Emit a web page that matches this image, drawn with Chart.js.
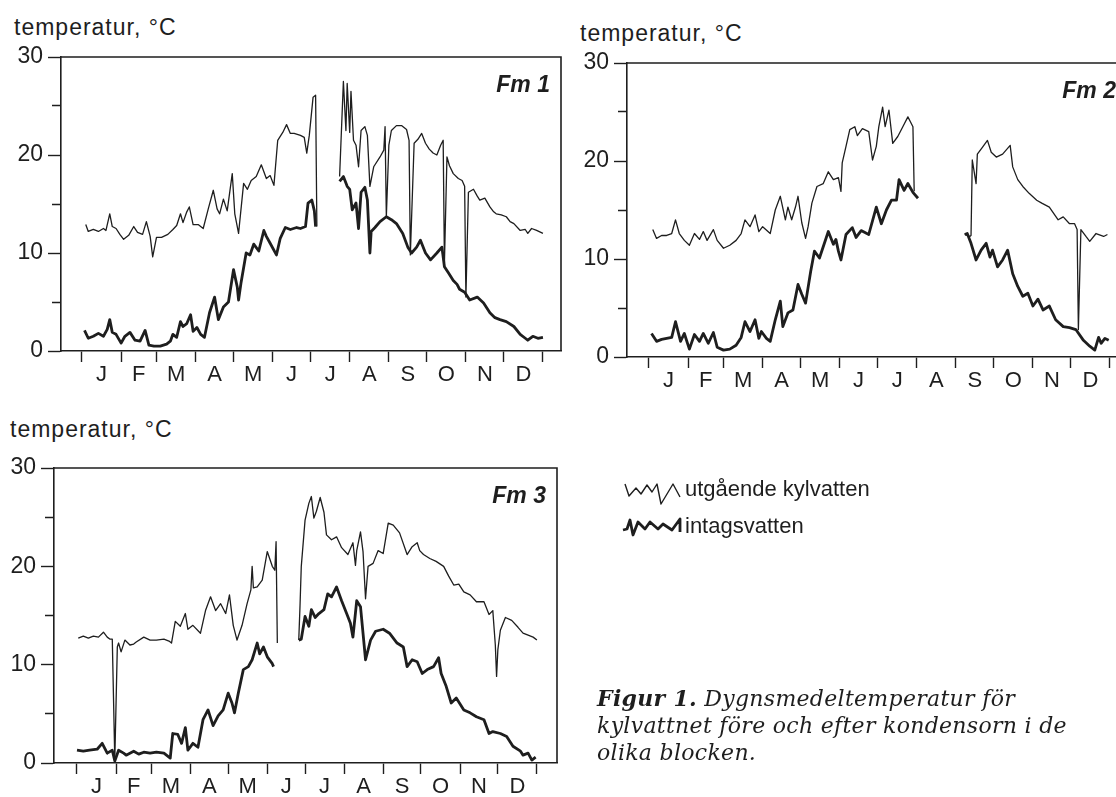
<!DOCTYPE html>
<html>
<head>
<meta charset="utf-8">
<script src="https://cdn.jsdelivr.net/npm/chart.js@4.4.1/dist/chart.umd.min.js"></script>
<style>
  body { margin: 0; width: 1116px; height: 797px; overflow: hidden; position: relative; background: #fff; color: #1e1e1e; font-family: 'Liberation Sans', Arial, sans-serif; }
  canvas { position: absolute; }
  .ylab { position: absolute; font-size: 23px; line-height: 23px; letter-spacing: 1px; white-space: nowrap; }
  .leg { position: absolute; font-size: 22px; line-height: 22px; white-space: nowrap; }
  .cap { position: absolute; font-family: 'DejaVu Serif', serif; font-style: italic; font-size: 22px; line-height: 27px; letter-spacing: 0.3px; white-space: nowrap; }
  .cap b { font-weight: bold; }
</style>
</head>
<body>
<div class="ylab" style="left:14px;top:16px">temperatur, °C</div>
<div class="ylab" style="left:580px;top:22px">temperatur, °C</div>
<div class="ylab" style="left:10px;top:418px">temperatur, °C</div>

<canvas id="fm1" width="600" height="400" style="left:0;top:0"></canvas>
<canvas id="fm2" width="600" height="405" style="left:566px;top:0"></canvas>
<canvas id="fm3" width="600" height="397" style="left:0;top:400px"></canvas>

<!-- teckenförklaring -->
<svg style="position:absolute;left:0;top:0" width="1116" height="797">
  <polyline points="625,484 629,496 636,488 641,494 647,485 652,492 657,484 661,504 673,484 680,497" fill="none" stroke="#1e1e1e" stroke-width="1.4" stroke-linejoin="round"/>
  <polyline points="623,530 627,529 630,520 633,535 638,522 645,529 650,522 658,529 663,524 672,530 680,519 680,532" fill="none" stroke="#1e1e1e" stroke-width="2.8" stroke-linejoin="round"/>
</svg>
<div class="leg" style="left:685px;top:478px">utgående kylvatten</div>
<div class="leg" style="left:685px;top:515px">intagsvatten</div>

<div class="cap" style="left:597px;top:685px"><b>Figur 1.</b> Dygnsmedeltemperatur för<br>kylvattnet före och efter kondensorn i de<br>olika blocken.</div>

<script>
'use strict';
/*------------------------------------*\
     Data (dag på året, °C)
\*------------------------------------*/
var monthStarts = [0, 31, 59, 90, 120, 151, 181, 212, 243, 273, 304, 334, 365];
var monthLabels = ['J', 'F', 'M', 'A', 'M', 'J', 'J', 'A', 'S', 'O', 'N', 'D'];
var yTickLabels = [0, 10, 20, 30];

// Fm 1
var fm1UtDays = [3,5,9,13,17,19,22,24,27,30,33,37,41,44,48,51,54,56,59,63,68,72,75,78,80,83,85,88,92,96,100,104,107,109,112,115,119,121,124,128,131,134,138,142,146,149,152,155,159,162,165,168,173,176,178,180,183,185,186,
  195,
  204,207,209,210,212,213,215,217,219,221,224,226,228,231,236,239,240,241,243,245,249,253,257,259,260,263,266,269,272,275,278,281,284,286,287,289,291,294,298,301,303,304,306,310,313,315,319,323,326,328,332,336,339,342,347,351,353,356,360,365];
var fm1UtTemps = [12.9,12.2,12.4,12.2,12.5,12.3,14.0,12.7,12.5,11.9,11.4,11.8,12.7,12.1,11.9,13.2,11.7,9.6,11.6,11.6,11.9,12.4,12.8,14.0,13.1,14.2,14.7,12.9,12.9,12.5,14.5,16.4,14.5,14.0,15.5,14.3,18.1,14.0,12.0,17.1,16.5,17.4,17.8,19.0,17.6,17.9,16.9,21.5,22.3,23.1,22.2,22.2,22.0,21.8,20.2,22.0,25.9,26.1,12.7,
  null,
  17.8,27.5,22.5,27.3,22.3,26.5,21.5,21.0,18.8,22.5,22.9,22.0,16.8,18.8,19.8,20.5,22.9,13.7,21.0,22.5,23.0,23.0,22.6,21.5,9.8,21.2,21.6,22.2,21.2,20.6,20.2,20.0,21.0,21.5,9.0,19.8,18.9,18.1,17.6,17.4,16.8,5.5,16.2,16.5,15.8,15.4,15.6,14.7,14.2,14.0,13.9,13.7,13.2,13.0,12.3,12.4,12.0,12.5,12.3,12.0];
var fm1InDays = [2,5,9,13,17,20,22,24,27,31,34,38,42,46,50,53,57,62,67,70,72,75,78,80,83,86,88,91,94,97,101,105,108,112,116,120,123,124,126,130,133,136,140,144,146,149,154,157,161,165,170,173,177,179,182,184,185,
  195,
  204,207,210,212,214,217,219,221,224,226,228,229,232,236,241,245,249,254,258,261,265,268,272,276,281,285,287,290,294,297,299,303,307,313,318,323,327,331,336,342,347,351,353,357,361,365];
var fm1InTemps = [2.1,1.3,1.5,1.8,1.5,2.2,3.2,1.9,1.7,0.8,1.5,1.9,1.1,1.0,2.1,0.6,0.5,0.5,0.7,1.0,1.7,1.4,3.0,2.5,2.8,3.7,2.0,2.4,1.7,1.4,3.9,5.5,3.2,4.5,5.0,8.3,6.5,5.2,7.0,10.0,9.8,10.9,10.2,12.3,11.7,11.0,9.8,11.5,12.6,12.4,12.6,12.5,12.7,15.1,15.4,14.3,12.7,
  null,
  17.3,17.8,16.8,16.5,14.4,15.1,12.5,16.2,16.7,15.4,10.0,12.2,12.6,13.2,13.7,13.4,13.0,12.0,10.6,10.0,10.6,11.3,10.0,9.3,10.0,10.6,8.6,8.0,7.2,6.8,6.3,6.0,5.2,5.5,4.9,3.9,3.4,3.2,3.0,2.5,1.7,1.3,1.1,1.5,1.3,1.4];

// Fm 2
var fm2UtDays = [3,6,10,14,18,21,24,28,32,36,40,43,46,51,54,59,64,69,73,76,80,84,87,90,96,100,104,108,110,113,116,118,121,124,126,129,133,138,142,146,150,152,153,156,159,163,165,169,174,177,180,182,185,187,190,193,197,201,205,207,209,210,
  230,
  250,254,255,256,259,260,264,268,271,275,280,286,288,292,296,301,307,311,317,324,328,333,337,339,340,342,346,349,354,360,363];
var fm2UtTemps = [13.0,12.1,12.4,12.4,12.6,14.0,12.6,11.9,11.4,12.6,12.0,12.8,11.9,13.0,11.9,11.1,11.4,11.9,12.6,14.0,13.3,14.5,12.8,13.3,12.6,15.0,16.4,14.0,15.3,14.0,15.3,16.4,13.7,12.1,13.3,15.7,17.4,17.7,18.9,18.1,18.3,16.9,19.8,21.5,23.2,23.5,22.6,23.3,23.0,20.1,21.5,23.5,25.5,23.5,25.2,21.8,22.5,23.5,24.5,24.0,23.5,16.9,
  null,
  12.5,12.3,12.4,20.1,17.7,20.7,21.4,22.1,20.9,20.4,20.7,21.6,19.4,18.1,17.4,16.7,16.0,15.7,15.3,14.0,14.3,13.6,13.6,13.0,2.8,13.0,12.3,11.8,12.6,12.3,12.5];
var fm2InDays = [2,6,10,14,18,21,25,28,32,36,40,43,47,51,54,59,64,69,73,76,80,84,87,89,93,96,100,104,106,110,114,118,121,124,128,131,135,142,146,148,150,152,156,161,164,168,174,180,184,188,192,196,198,202,205,209,213,
  230,
  250,252,255,259,263,267,270,272,276,280,284,288,292,296,300,304,308,312,317,322,328,333,338,344,349,353,356,358,361,364];
var fm2InTemps = [2.4,1.6,1.8,1.9,2.0,3.6,1.6,2.4,0.8,2.3,1.6,2.4,1.4,2.5,1.0,0.7,0.8,1.2,2.0,3.6,2.6,3.8,1.9,2.6,1.9,1.6,3.8,5.7,3.1,4.5,4.8,7.4,6.4,5.5,8.7,10.8,10.1,12.8,11.5,12.0,10.8,9.9,12.5,13.2,12.2,12.9,12.5,15.3,13.6,15.0,16.0,16.0,18.1,17.0,17.7,16.8,16.2,
  null,
  12.5,12.6,11.6,9.9,10.9,11.6,10.2,10.9,9.2,9.9,10.9,8.5,7.2,6.2,6.5,5.2,5.9,4.8,5.2,3.8,3.1,3.0,2.8,1.7,1.1,0.7,2.0,1.4,1.9,1.7];

// Fm 3
var fm3UtDays = [1,5,9,13,17,21,24,26,28,30,32,33,35,38,42,45,47,53,58,63,69,73,75,78,82,86,88,92,98,102,106,110,114,118,121,124,127,131,135,138,139,140,143,147,151,155,157,158,159,
  167,
  176,177,178,181,184,186,188,190,193,196,198,202,206,210,215,219,221,222,225,227,229,231,235,239,243,247,251,256,262,266,270,272,275,280,285,291,295,299,303,307,312,317,323,327,330,332,333,334,336,340,345,350,354,358,362,365];
var fm3UtTemps = [12.7,12.9,12.7,12.9,12.8,13.3,12.8,12.6,12.6,0.3,11.8,12.2,11.3,12.5,12.0,12.1,12.3,12.8,12.5,12.5,12.6,12.4,12.2,14.4,13.9,15.2,13.6,14.0,13.2,15.5,16.9,15.5,16.2,15.2,17.1,14.0,12.5,14.0,16.2,17.6,20.0,17.8,17.9,18.6,21.5,20.0,19.6,22.5,12.2,
  null,
  12.5,16.0,20.0,24.7,26.4,27.1,24.9,25.6,27.0,25.5,23.2,22.7,23.0,21.9,21.2,22.4,20.1,21.6,23.5,21.5,16.7,20.0,20.3,21.6,21.3,24.4,24.2,23.4,21.2,22.0,22.4,21.6,21.2,20.8,20.5,20.0,19.0,18.1,18.2,17.4,17.1,16.4,16.4,15.1,15.5,12.0,8.8,11.5,13.5,14.8,14.5,13.8,13.2,13.0,12.8,12.5];
var fm3InDays = [0,5,10,16,20,24,28,30,33,37,39,45,49,53,58,63,69,71,74,76,80,83,86,88,92,96,100,104,108,112,116,120,123,125,128,132,136,139,143,145,148,151,155,156,
  167,
  176,178,181,184,186,189,192,196,199,202,206,210,214,217,219,222,225,229,233,237,243,248,254,259,262,266,270,274,278,283,287,289,293,297,301,307,312,317,323,327,330,336,341,346,352,354,358,361,364];
var fm3InTemps = [1.3,1.2,1.3,1.4,2.0,1.0,1.3,0.2,1.3,1.0,0.8,1.2,0.9,1.1,1.0,1.1,1.0,0.8,0.5,3.0,2.9,2.0,3.6,1.3,2.0,1.6,4.4,5.4,3.8,4.8,5.4,7.1,6.1,5.1,7.1,9.5,9.8,10.5,12.2,11.1,11.8,10.8,10.1,9.8,
  null,
  12.5,12.6,14.9,13.9,15.6,14.8,15.2,15.6,17.2,16.9,17.9,16.5,15.2,14.2,12.8,16.5,15.9,10.5,12.5,13.4,13.6,13.2,12.2,11.8,9.8,10.5,10.3,9.1,9.5,9.8,10.7,9.1,7.8,6.1,6.6,5.4,5.1,4.7,4.4,3.0,3.2,3.0,2.7,1.7,1.2,0.8,1.0,0.3,0.6];

/*------------------------------------*\
     Fonctions utilitaires
\*------------------------------------*/
var ink = '#1e1e1e';
Chart.defaults.font.family = "'Liberation Sans', Arial, sans-serif";
Chart.defaults.color = ink;

var monthMids = [];
for (var i = 0; i < 12; i++) {
  monthMids.push((monthStarts[i] + monthStarts[i + 1]) / 2);
}
var xTickValues = monthStarts.concat(monthMids).sort(function(a, b) { return a - b; });

function pairs(days, temps) {
  return days.map(function(d, i) { return {x: d, y: temps[i]}; });
}

// ram (övre + högra kanten) och blocknamn
var framePlugin = {
  id: 'frame',
  afterDraw: function(chart, args, opts) {
    var ctx = chart.ctx;
    var a = chart.chartArea;
    ctx.save();
    ctx.strokeStyle = ink;
    ctx.lineWidth = 1.6;
    ctx.beginPath();
    ctx.moveTo(a.left, a.top);
    ctx.lineTo(a.right, a.top);
    ctx.lineTo(a.right, a.bottom);
    ctx.stroke();
    ctx.font = 'italic bold 23px "Liberation Sans"';
    ctx.textAlign = 'right';
    ctx.fillStyle = ink;
    ctx.fillText(opts.text, a.right - 11, a.top + 35);
    ctx.restore();
  }
};

function makePanel(id, p) {
  return new Chart(document.getElementById(id), {
    type: 'line',
    data: {
      datasets: [{
        label: 'utgående kylvatten',
        data: pairs(p.utDays, p.utTemps),
        borderColor: ink,
        borderWidth: 1.3,
        pointRadius: 0,
        tension: 0,
        spanGaps: false,
        borderJoinStyle: 'round'
      }, {
        label: 'intagsvatten',
        data: pairs(p.inDays, p.inTemps),
        borderColor: ink,
        borderWidth: 2.8,
        pointRadius: 0,
        tension: 0,
        spanGaps: false,
        borderJoinStyle: 'round'
      }]
    },
    options: {
      responsive: false,
      animation: false,
      events: [],
      layout: {padding: {top: p.padTop, right: p.padRight, bottom: p.padBottom, left: 0}},
      plugins: {
        legend: {display: false},
        tooltip: {enabled: false},
        frame: {text: p.name}
      },
      scales: {
        x: {
          type: 'linear',
          min: p.xMin,
          max: p.xMax,
          afterBuildTicks: function(scale) {
            scale.ticks = xTickValues.map(function(v) { return {value: v}; });
          },
          afterFit: function(scale) { scale.height = p.xAxisH; },
          ticks: {
            autoSkip: false,
            maxRotation: 0,
            padding: 0,
            font: {size: 22},
            callback: function(v) {
              var k = monthMids.indexOf(v);
              return k >= 0 ? monthLabels[k] : '';
            }
          },
          grid: {
            drawOnChartArea: false,
            tickLength: 11,
            tickWidth: 1.4,
            tickColor: function(c) {
              return c.tick && monthStarts.indexOf(c.tick.value) >= 0 ? ink : 'rgba(0,0,0,0)';
            }
          },
          border: {color: ink, width: 1.6}
        },
        y: {
          min: 0,
          max: 30,
          afterFit: function(scale) { scale.width = p.yAxisW; },
          ticks: {
            stepSize: 5,
            padding: 5,
            font: {size: 23},
            callback: function(v) { return yTickLabels.indexOf(v) >= 0 ? String(v) : ''; }
          },
          grid: {
            drawOnChartArea: false,
            tickLength: 13,
            tickWidth: 1.4,
            tickColor: ink,
            tickBorderDash: function(c) {
              return c.tick && yTickLabels.indexOf(c.tick.value) < 0 ? [0, 4, 9, 40] : [];
            }
          },
          border: {color: ink, width: 1.6}
        }
      }
    },
    plugins: [framePlugin]
  });
}

/*------------------------------------*\
     Diagram
\*------------------------------------*/
makePanel('fm1', {
  name: 'Fm 1',
  utDays: fm1UtDays, utTemps: fm1UtTemps, inDays: fm1InDays, inTemps: fm1InTemps,
  xMin: -16.6, xMax: 379.3, padTop: 57, padRight: 39, padBottom: 9, xAxisH: 40, yAxisW: 61
});
makePanel('fm2', {
  name: 'Fm 2',
  utDays: fm2UtDays, utTemps: fm2UtTemps, inDays: fm2InDays, inTemps: fm2InTemps,
  xMin: -17.4, xMax: 378.5, padTop: 63, padRight: 39, padBottom: 8, xAxisH: 40, yAxisW: 61
});
makePanel('fm3', {
  name: 'Fm 3',
  utDays: fm3UtDays, utTemps: fm3UtTemps, inDays: fm3InDays, inTemps: fm3InTemps,
  xMin: -18.25, xMax: 380.95, padTop: 68, padRight: 43, padBottom: 0, xAxisH: 34, yAxisW: 54
});
</script>
</body>
</html>
